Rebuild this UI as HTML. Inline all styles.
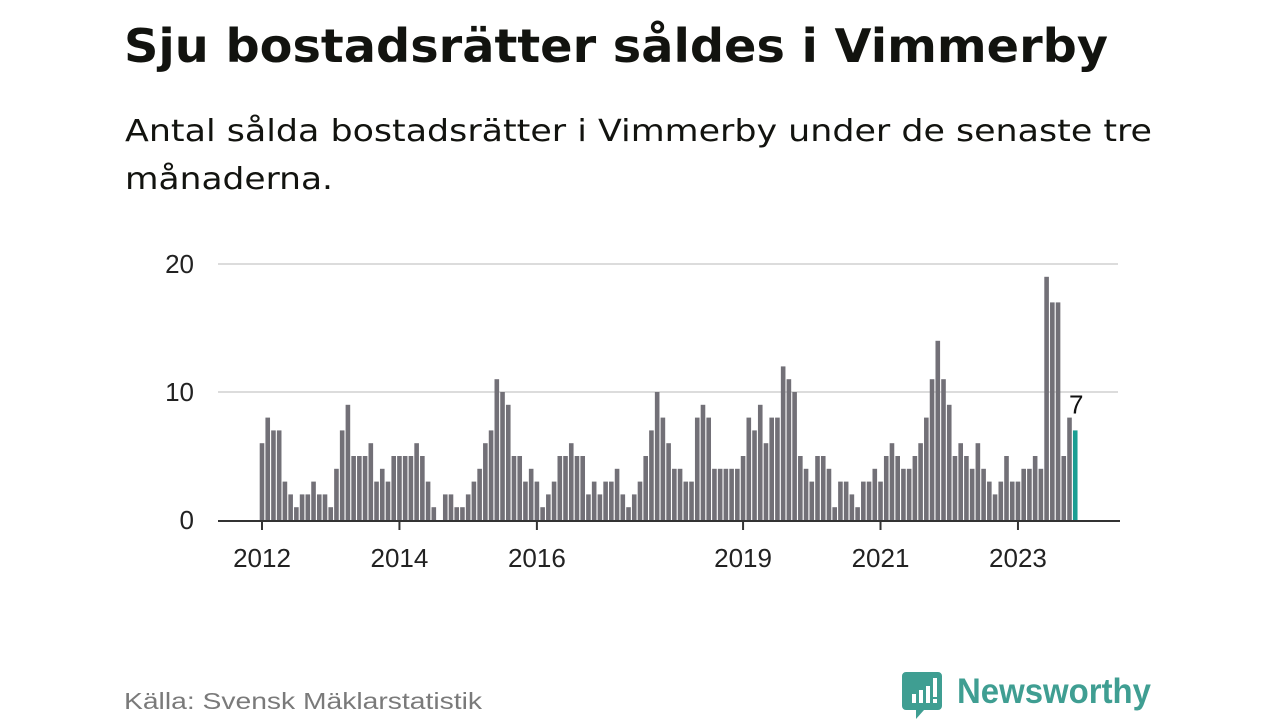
<!DOCTYPE html>
<html><head><meta charset="utf-8"><style>
html,body{margin:0;padding:0;background:#fff;}
svg{display:block;font-family:"Liberation Sans",sans-serif;}
</style></head><body>
<svg id="chart" width="1280" height="720" viewBox="0 0 1280 720" xmlns="http://www.w3.org/2000/svg">
<text x="124" y="62" font-size="46" font-weight="bold" fill="#12130f" font-family="DejaVu Sans, sans-serif" textLength="984" lengthAdjust="spacingAndGlyphs">Sju bostadsrätter såldes i Vimmerby</text>
<text x="125" y="141" font-size="30" fill="#12130f" font-family="DejaVu Sans, sans-serif" textLength="1027" lengthAdjust="spacingAndGlyphs">Antal sålda bostadsrätter i Vimmerby under de senaste tre</text>
<text x="125" y="189" font-size="30" fill="#12130f" font-family="DejaVu Sans, sans-serif" textLength="208" lengthAdjust="spacingAndGlyphs">månaderna.</text>
<g id="grid"></g>
<g id="bars"></g>
<g id="xaxis"></g>
<text x="124" y="709" font-size="23" fill="#7a7a7a" textLength="358" lengthAdjust="spacingAndGlyphs">Källa: Svensk Mäklarstatistik</text>
<g>
<path d="M906 672 h32 a4 4 0 0 1 4 4 v30 a4 4 0 0 1 -4 4 h-14 l-8 9 v-9 h-10 a4 4 0 0 1 -4 -4 v-30 a4 4 0 0 1 4 -4z" fill="#3f9e92"/>
<rect x="912" y="694" width="4" height="9" fill="#fff"/>
<rect x="919" y="690" width="4" height="13" fill="#fff"/>
<rect x="926" y="686" width="4" height="17" fill="#fff"/>
<rect x="933" y="678" width="4" height="19" fill="#fff"/>
<rect x="933" y="699" width="4" height="4" fill="#fff"/>
<text x="957" y="703" font-size="35" font-weight="bold" fill="#3f9e92" textLength="194" lengthAdjust="spacingAndGlyphs">Newsworthy</text>
</g>
</svg>
<script>
const values = [6,8,7,7,3,2,1,2,2,3,2,2,
1,4,7,9,5,5,5,6,3,4,3,5,
5,5,5,6,5,3,1,0,2,2,1,1,
2,3,4,6,7,11,10,9,5,5,3,4,
3,1,2,3,5,5,6,5,5,2,3,2,
3,3,4,2,1,2,3,5,7,10,8,6,
4,4,3,3,8,9,8,4,4,4,4,4,
5,8,7,9,6,8,8,12,11,10,5,4,
3,5,5,4,1,3,3,2,1,3,3,4,
3,5,6,5,4,4,5,6,8,11,14,11,
9,5,6,5,4,6,4,3,2,3,5,3,
3,4,4,5,4,19,17,17,5,8,7];
const yTicks = [0,10,20];
const xTickLabels = ["2012","2014","2016","2019","2021","2023"];
const xTickIndex = [0,24,48,84,108,132];

const NS = "http://www.w3.org/2000/svg";
const x = i => 262 + i * 5.727;
const y = v => 520 - v * 12.8;
function mk(tag, attrs, parent){const e=document.createElementNS(NS,tag);for(const k in attrs)e.setAttribute(k,attrs[k]);parent.appendChild(e);return e;}
const grid=document.getElementById('grid'), bars=document.getElementById('bars'), xa=document.getElementById('xaxis');
yTicks.forEach(t=>{
  if(t>0){const l=mk('line',{x1:218,x2:1118,y1:y(t),y2:y(t),stroke:'#dcdcdc','stroke-width':2},grid);
  
  }
  const tx=mk('text',{x:194,y:y(t)+9,'font-size':26,fill:'#222','text-anchor':'end'},grid);
  tx.textContent=t;
  
  
});
values.forEach((v,i)=>{
  const last=i===values.length-1;
  const r=mk('rect',{x:x(i)-2.3,y:y(v),width:4.6,height:520-y(v),fill:last?'#1a9e92':'#727077'},bars);
  
  
  if(last){const t=mk('text',{x:x(i)+1,y:y(v)-17,'font-size':26,fill:'#111','text-anchor':'middle'},bars);
    t.textContent=v;
    
    }
});
const ax=mk('line',{x1:218,x2:1120,y1:521,y2:521,stroke:'#333','stroke-width':2},xa);


xTickIndex.forEach((idx,k)=>{
  const tk=mk('line',{x1:x(idx),x2:x(idx),y1:521,y2:530,stroke:'#333','stroke-width':2},xa);
  
  
  const t=mk('text',{x:x(idx),y:567,'font-size':26,fill:'#222','text-anchor':'middle'},xa);
  t.textContent=xTickLabels[k];
  
  
});
</script>
</body></html>
